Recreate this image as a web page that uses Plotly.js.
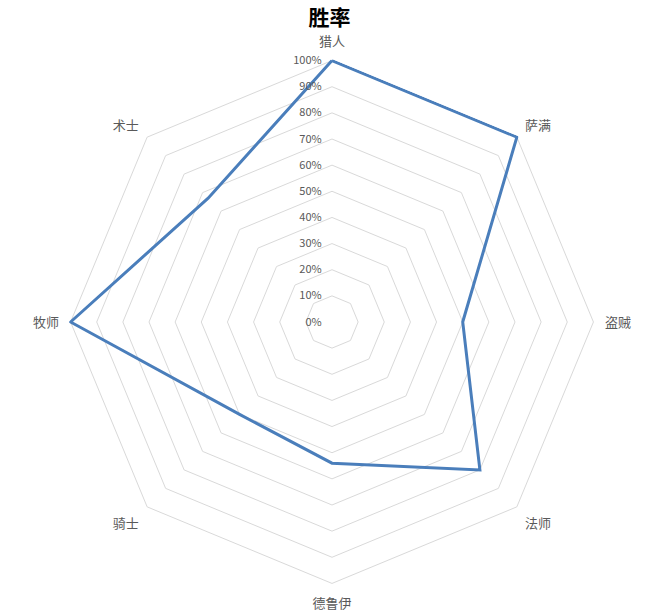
<!DOCTYPE html>
<html>
<head>
<meta charset="utf-8">
<script src="https://cdn.plot.ly/plotly-3.0.1.min.js"></script>
<style>html,body{margin:0;padding:0;background:#fff;}</style>
</head>
<body>
<div id="chart" style="width:659px;height:615px;"></div>
<script>
/* 职业 */
var categories = ['猎人', '萨满', '盗贼', '法师', '德鲁伊', '骑士', '牧师', '术士'];
/* 胜率 */
var winRate = [1.00, 1.00, 0.50, 0.80, 0.54, 0.50, 1.00, 0.67];

var trace1 = {
  type: 'scatterpolar',
  r: winRate.concat([winRate[0]]),
  theta: categories.concat([categories[0]]),
  mode: 'lines',
  line: {color: '#4a7ebb', width: 3},
  hoverinfo: 'none'
};

var layout = {
  width: 659,
  height: 615,
  showlegend: false,
  paper_bgcolor: '#fff',
  margin: {l: 69, r: 64, t: 59, b: 30, pad: 0},
  font: {family: '"Noto Sans CJK SC", sans-serif', color: '#595959'},
  title: {
    text: '<b>胜率</b>',
    x: 0.5, y: 0.972, xanchor: 'center', yanchor: 'middle',
    font: {family: '"Noto Sans CJK SC", serif', size: 21, color: '#000'}
  },
  polar: {
    bgcolor: '#fff',
    gridshape: 'linear',
    radialaxis: {
      range: [0, 1.006],
      dtick: 0.1,
      tick0: 0,
      tickformat: '.0%',
      angle: 90,
      tickangle: 90,
      side: 'counterclockwise',
      showline: false,
      ticks: 'outside',
      ticklen: 6,
      tickcolor: 'rgba(0,0,0,0)',
      gridcolor: '#d9d9d9',
      gridwidth: 1,
      tickfont: {size: 11, color: '#595959'}
    },
    angularaxis: {
      rotation: 90,
      direction: 'clockwise',
      showgrid: false,
      showline: false,
      ticks: 'outside',
      ticklen: 7,
      tickcolor: 'rgba(0,0,0,0)',
      tickfont: {size: 13, color: '#595959'}
    }
  }
};

Plotly.newPlot('chart', [trace1], layout, {displayModeBar: false});
</script>
</body>
</html>
